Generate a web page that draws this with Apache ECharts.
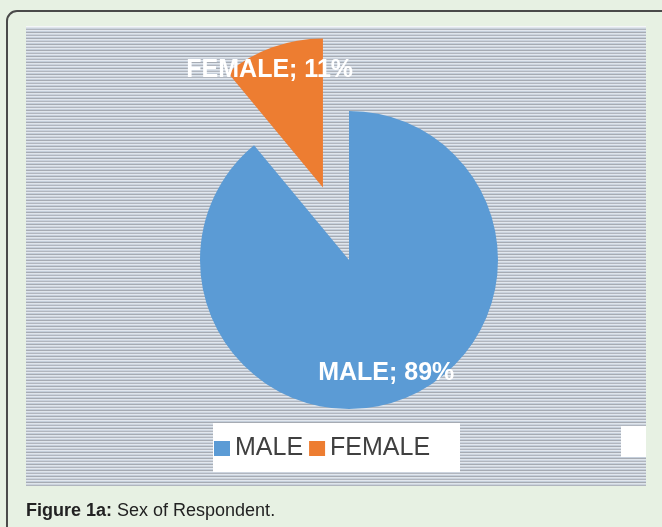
<!DOCTYPE html>
<html>
<head>
<meta charset="utf-8">
<script src="https://cdn.jsdelivr.net/npm/echarts@6/dist/echarts.min.js"></script>
<style>
html,body{margin:0;padding:0;background:#e7f1e3;}
#chart{width:662px;height:527px;}
</style>
</head>
<body>
<div id="chart"></div>
<script>
// ---- data ----
const categories = ['MALE', 'FEMALE'];
const values = [89, 11];
const colors = ['#5b9bd5', '#ed7d31'];
const captionBold = 'Figure 1a:';
const captionText = ' Sex of Respondent.';

// ---- striped background pattern ----
const pat = document.createElement('canvas');
pat.width = 4; pat.height = 6;
const pctx = pat.getContext('2d');
const rows = ['#e2e7ee', '#c5cfdb', '#a6abb3', '#dfe5eb', '#cbd3de', '#b1b6be'];
rows.forEach((c, i) => { pctx.fillStyle = c; pctx.fillRect(0, i, 4, 1); });

const chart = echarts.init(document.getElementById('chart'), null, {renderer: 'canvas'});

const font = '"Liberation Sans", Arial, sans-serif';
// label nudges (styling, not data)
const labelOffsets = [[11, 40], [-27, -45]];

chart.setOption({
  animation: false,
  backgroundColor: '#e7f1e3',
  color: colors,
  graphic: [
    {type: 'rect', z: -20, shape: {x: 7, y: 11, width: 720, height: 600, r: 10},
     style: {fill: '#e7f1e3', stroke: '#4a4a4a', lineWidth: 2}},
    {type: 'rect', z: -19, shape: {x: 26, y: 26, width: 620, height: 460},
     style: {fill: {image: pat, repeat: 'repeat'}}},
    {type: 'rect', z: -18, shape: {x: 26, y: 26, width: 620, height: 1},
     style: {fill: '#f4f6f8'}},
    {type: 'rect', z: -18, shape: {x: 213, y: 423, width: 247, height: 49},
     style: {fill: '#ffffff'}},
    {type: 'rect', z: -18, shape: {x: 621, y: 426, width: 25, height: 31},
     style: {fill: '#ffffff'}},
    {type: 'text', z: 10, left: 26, top: 502,
     style: {
       text: '{b|' + captionBold + '}{n|' + captionText + '}',
       rich: {
         b: {fontFamily: font, fontSize: 18, fontWeight: 'bold', fill: '#222222'},
         n: {fontFamily: font, fontSize: 18, fill: '#222222'}
       }
     }}
  ],
  legend: {
    left: 214, top: 436, padding: 0,
    icon: 'rect', itemWidth: 16, itemHeight: 15, itemGap: 6,
    selectedMode: false,
    data: categories,
    textStyle: {fontFamily: font, fontSize: 25, color: '#404040'}
  },
  series: [{
    type: 'pie',
    center: [349, 260],
    radius: 149,
    startAngle: 90,
    clockwise: true,
    selectedMode: 'multiple',
    selectedOffset: 77,
    avoidLabelOverlap: false,
    emphasis: {disabled: true},
    data: categories.map((c, i) => ({
      name: c, value: values[i], selected: i === 1,
      label: {offset: labelOffsets[i]},
      select: {label: {offset: labelOffsets[i]}}
    })),
    label: {
      show: true, position: 'inside',
      formatter: '{b}; {d}%',
      color: '#ffffff', fontWeight: 'bold', fontSize: 25, fontFamily: font
    },
    labelLine: {show: false}
  }]
});
</script>
</body>
</html>
